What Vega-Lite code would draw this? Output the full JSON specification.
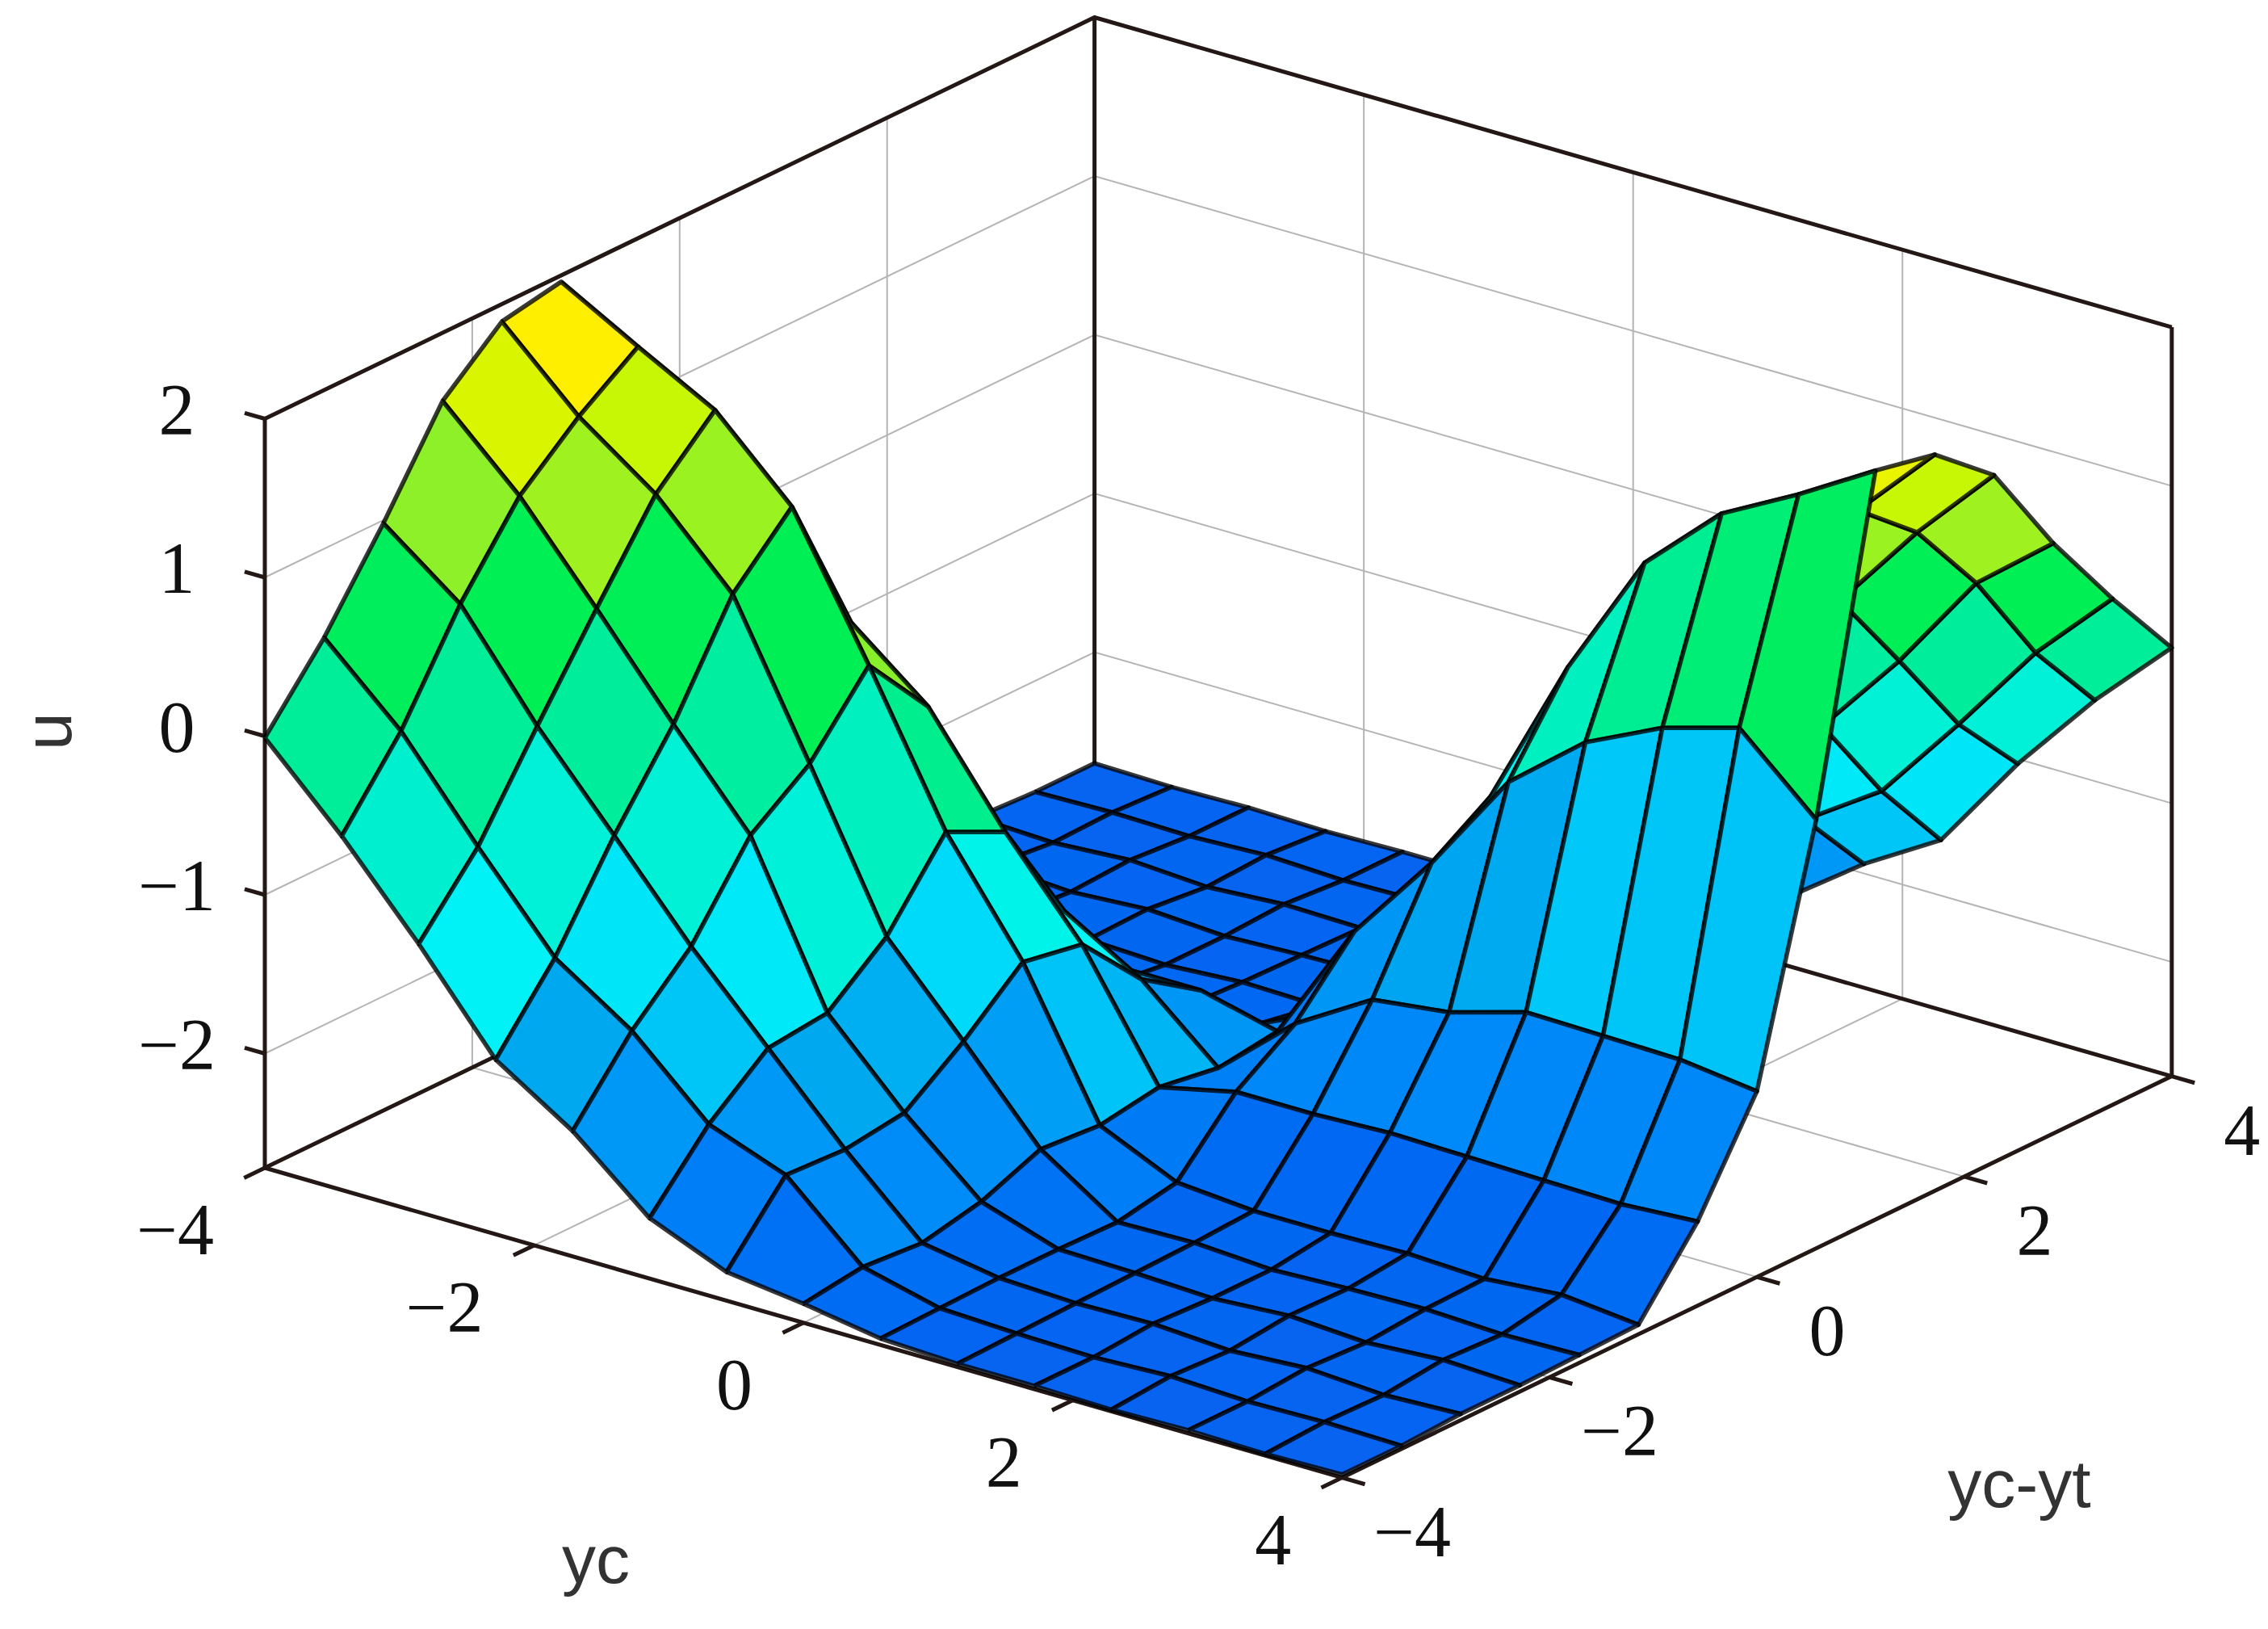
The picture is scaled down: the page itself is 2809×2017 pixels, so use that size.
{
  "$schema": "https://vega.github.io/schema/vega-lite/v6.json",
  "width": 2809,
  "height": 2017,
  "padding": 0,
  "autosize": "none",
  "background": "white",
  "config": {"view": {"stroke": null}},
  "datasets": {
    "mesh": [
      {"i":0,"j":14,"u":-2.70},{"i":0,"j":13,"u":-2.70},{"i":0,"j":12,"u":-2.68},{"i":0,"j":11,"u":-2.68},{"i":0,"j":10,"u":-2.67},{"i":0,"j":9,"u":-2.66},{"i":0,"j":8,"u":-2.19},{"i":0,"j":7,"u":-1.55},{"i":0,"j":6,"u":-0.02},{"i":0,"j":5,"u":1.96},{"i":0,"j":4,"u":1.89},{"i":0,"j":3,"u":1.57},{"i":0,"j":2,"u":0.98},{"i":0,"j":1,"u":0.44},{"i":0,"j":0,"u":-0.01},
      {"i":1,"j":14,"u":-2.71},{"i":1,"j":13,"u":-2.69},{"i":1,"j":12,"u":-2.70},{"i":1,"j":11,"u":-2.66},{"i":1,"j":10,"u":-2.68},{"i":1,"j":9,"u":-2.61},{"i":1,"j":8,"u":-2.22},{"i":1,"j":7,"u":-1.49},{"i":1,"j":6,"u":0.42},{"i":1,"j":5,"u":1.69},{"i":1,"j":4,"u":1.43},{"i":1,"j":3,"u":1.11},{"i":1,"j":2,"u":0.61},{"i":1,"j":1,"u":-0.01},{"i":1,"j":0,"u":-0.49},
      {"i":2,"j":14,"u":-2.70},{"i":2,"j":13,"u":-2.70},{"i":2,"j":12,"u":-2.67},{"i":2,"j":11,"u":-2.69},{"i":2,"j":10,"u":-2.66},{"i":2,"j":9,"u":-2.65},{"i":2,"j":8,"u":-2.21},{"i":2,"j":7,"u":-1.48},{"i":2,"j":6,"u":0.28},{"i":2,"j":5,"u":1.43},{"i":2,"j":4,"u":1.08},{"i":2,"j":3,"u":0.54},{"i":2,"j":2,"u":-0.02},{"i":2,"j":1,"u":-0.60},{"i":2,"j":0,"u":-1.03},
      {"i":3,"j":14,"u":-2.71},{"i":3,"j":13,"u":-2.68},{"i":3,"j":12,"u":-2.70},{"i":3,"j":11,"u":-2.66},{"i":3,"j":10,"u":-2.67},{"i":3,"j":9,"u":-2.63},{"i":3,"j":8,"u":-2.20},{"i":3,"j":7,"u":-1.47},{"i":3,"j":6,"u":0.05},{"i":3,"j":5,"u":0.96},{"i":3,"j":4,"u":0.59},{"i":3,"j":3,"u":-0.05},{"i":3,"j":2,"u":-0.57},{"i":3,"j":1,"u":-1.16},{"i":3,"j":0,"u":-1.62},
      {"i":4,"j":14,"u":-2.70},{"i":4,"j":13,"u":-2.70},{"i":4,"j":12,"u":-2.67},{"i":4,"j":11,"u":-2.69},{"i":4,"j":10,"u":-2.69},{"i":4,"j":9,"u":-2.64},{"i":4,"j":8,"u":-2.19},{"i":4,"j":7,"u":-1.61},{"i":4,"j":6,"u":-0.34},{"i":4,"j":5,"u":0.10},{"i":4,"j":4,"u":-0.34},{"i":4,"j":3,"u":-0.61},{"i":4,"j":2,"u":-1.13},{"i":4,"j":1,"u":-1.48},{"i":4,"j":0,"u":-1.93},
      {"i":5,"j":14,"u":-2.70},{"i":5,"j":13,"u":-2.69},{"i":5,"j":12,"u":-2.68},{"i":5,"j":11,"u":-2.67},{"i":5,"j":10,"u":-2.66},{"i":5,"j":9,"u":-2.64},{"i":5,"j":8,"u":-2.21},{"i":5,"j":7,"u":-1.67},{"i":5,"j":6,"u":-0.99},{"i":5,"j":5,"u":-0.81},{"i":5,"j":4,"u":-1.29},{"i":5,"j":3,"u":-1.59},{"i":5,"j":2,"u":-1.63},{"i":5,"j":1,"u":-1.93},{"i":5,"j":0,"u":-2.34},
      {"i":6,"j":14,"u":-2.68},{"i":6,"j":13,"u":-2.67},{"i":6,"j":12,"u":-2.66},{"i":6,"j":11,"u":-2.66},{"i":6,"j":10,"u":-2.67},{"i":6,"j":9,"u":-2.60},{"i":6,"j":8,"u":-2.21},{"i":6,"j":7,"u":-1.96},{"i":6,"j":6,"u":-1.56},{"i":6,"j":5,"u":-1.49},{"i":6,"j":4,"u":-1.81},{"i":6,"j":3,"u":-2.08},{"i":6,"j":2,"u":-2.13},{"i":6,"j":1,"u":-2.11},{"i":6,"j":0,"u":-2.54},
      {"i":7,"j":14,"u":-2.60},{"i":7,"j":13,"u":-2.55},{"i":7,"j":12,"u":-2.58},{"i":7,"j":11,"u":-2.50},{"i":7,"j":10,"u":-2.35},{"i":7,"j":9,"u":-2.38},{"i":7,"j":8,"u":-2.33},{"i":7,"j":7,"u":-2.38},{"i":7,"j":6,"u":-2.32},{"i":7,"j":5,"u":-2.38},{"i":7,"j":4,"u":-2.35},{"i":7,"j":3,"u":-2.50},{"i":7,"j":2,"u":-2.58},{"i":7,"j":1,"u":-2.55},{"i":7,"j":0,"u":-2.60},
      {"i":8,"j":14,"u":-2.54},{"i":8,"j":13,"u":-2.11},{"i":8,"j":12,"u":-2.13},{"i":8,"j":11,"u":-2.08},{"i":8,"j":10,"u":-1.81},{"i":8,"j":9,"u":-1.49},{"i":8,"j":8,"u":-1.56},{"i":8,"j":7,"u":-1.96},{"i":8,"j":6,"u":-2.21},{"i":8,"j":5,"u":-2.60},{"i":8,"j":4,"u":-2.67},{"i":8,"j":3,"u":-2.66},{"i":8,"j":2,"u":-2.66},{"i":8,"j":1,"u":-2.67},{"i":8,"j":0,"u":-2.68},
      {"i":9,"j":14,"u":-2.29},{"i":9,"j":13,"u":-1.93},{"i":9,"j":12,"u":-1.63},{"i":9,"j":11,"u":-1.59},{"i":9,"j":10,"u":-1.29},{"i":9,"j":9,"u":-0.75},{"i":9,"j":8,"u":-0.99},{"i":9,"j":7,"u":-1.67},{"i":9,"j":6,"u":-2.21},{"i":9,"j":5,"u":-2.64},{"i":9,"j":4,"u":-2.66},{"i":9,"j":3,"u":-2.67},{"i":9,"j":2,"u":-2.68},{"i":9,"j":1,"u":-2.69},{"i":9,"j":0,"u":-2.70},
      {"i":10,"j":14,"u":-1.94},{"i":10,"j":13,"u":-1.48},{"i":10,"j":12,"u":-1.13},{"i":10,"j":11,"u":-0.61},{"i":10,"j":10,"u":-0.34},{"i":10,"j":9,"u":0.20},{"i":10,"j":8,"u":-0.34},{"i":10,"j":7,"u":-1.61},{"i":10,"j":6,"u":-2.19},{"i":10,"j":5,"u":-2.64},{"i":10,"j":4,"u":-2.69},{"i":10,"j":3,"u":-2.69},{"i":10,"j":2,"u":-2.67},{"i":10,"j":1,"u":-2.70},{"i":10,"j":0,"u":-2.70},
      {"i":11,"j":14,"u":-1.65},{"i":11,"j":13,"u":-1.16},{"i":11,"j":12,"u":-0.57},{"i":11,"j":11,"u":-0.05},{"i":11,"j":10,"u":0.59},{"i":11,"j":9,"u":1.00},{"i":11,"j":8,"u":0.05},{"i":11,"j":7,"u":-1.47},{"i":11,"j":6,"u":-2.20},{"i":11,"j":5,"u":-2.63},{"i":11,"j":4,"u":-2.67},{"i":11,"j":3,"u":-2.66},{"i":11,"j":2,"u":-2.70},{"i":11,"j":1,"u":-2.68},{"i":11,"j":0,"u":-2.71},
      {"i":12,"j":14,"u":-1.03},{"i":12,"j":13,"u":-0.60},{"i":12,"j":12,"u":-0.02},{"i":12,"j":11,"u":0.54},{"i":12,"j":10,"u":1.08},{"i":12,"j":9,"u":1.45},{"i":12,"j":8,"u":0.28},{"i":12,"j":7,"u":-1.48},{"i":12,"j":6,"u":-2.21},{"i":12,"j":5,"u":-2.65},{"i":12,"j":4,"u":-2.66},{"i":12,"j":3,"u":-2.69},{"i":12,"j":2,"u":-2.67},{"i":12,"j":1,"u":-2.70},{"i":12,"j":0,"u":-2.70},
      {"i":13,"j":14,"u":-0.49},{"i":13,"j":13,"u":-0.01},{"i":13,"j":12,"u":0.61},{"i":13,"j":11,"u":1.11},{"i":13,"j":10,"u":1.43},{"i":13,"j":9,"u":1.71},{"i":13,"j":8,"u":0.42},{"i":13,"j":7,"u":-1.49},{"i":13,"j":6,"u":-2.22},{"i":13,"j":5,"u":-2.61},{"i":13,"j":4,"u":-2.68},{"i":13,"j":3,"u":-2.66},{"i":13,"j":2,"u":-2.70},{"i":13,"j":1,"u":-2.69},{"i":13,"j":0,"u":-2.71},
      {"i":14,"j":14,"u":-0.02},{"i":14,"j":13,"u":0.47},{"i":14,"j":12,"u":1.00},{"i":14,"j":11,"u":1.61},{"i":14,"j":10,"u":1.92},{"i":14,"j":9,"u":2.00},{"i":14,"j":8,"u":-0.02},{"i":14,"j":7,"u":-1.55},{"i":14,"j":6,"u":-2.19},{"i":14,"j":5,"u":-2.66},{"i":14,"j":4,"u":-2.67},{"i":14,"j":3,"u":-2.68},{"i":14,"j":2,"u":-2.68},{"i":14,"j":1,"u":-2.70},{"i":14,"j":0,"u":-2.70}
    ],
    "grid": [
      {"line":"w1","o":0,"yc":-4,"d":-2,"u":-2.72},{"line":"w1","o":1,"yc":-4,"d":-2,"u":2},
      {"line":"w2","o":0,"yc":-4,"d":0,"u":-2.72},{"line":"w2","o":1,"yc":-4,"d":0,"u":2},
      {"line":"w3","o":0,"yc":-4,"d":2,"u":-2.72},{"line":"w3","o":1,"yc":-4,"d":2,"u":2},
      {"line":"b1","o":0,"yc":-2,"d":4,"u":-2.72},{"line":"b1","o":1,"yc":-2,"d":4,"u":2},
      {"line":"b2","o":0,"yc":0,"d":4,"u":-2.72},{"line":"b2","o":1,"yc":0,"d":4,"u":2},
      {"line":"b3","o":0,"yc":2,"d":4,"u":-2.72},{"line":"b3","o":1,"yc":2,"d":4,"u":2},
      {"line":"h1","o":0,"yc":-4,"d":-4,"u":-2},{"line":"h1","o":1,"yc":-4,"d":4,"u":-2},{"line":"h1","o":2,"yc":4,"d":4,"u":-2},
      {"line":"h2","o":0,"yc":-4,"d":-4,"u":-1},{"line":"h2","o":1,"yc":-4,"d":4,"u":-1},{"line":"h2","o":2,"yc":4,"d":4,"u":-1},
      {"line":"h3","o":0,"yc":-4,"d":-4,"u":0},{"line":"h3","o":1,"yc":-4,"d":4,"u":0},{"line":"h3","o":2,"yc":4,"d":4,"u":0},
      {"line":"h4","o":0,"yc":-4,"d":-4,"u":1},{"line":"h4","o":1,"yc":-4,"d":4,"u":1},{"line":"h4","o":2,"yc":4,"d":4,"u":1},
      {"line":"f1","o":0,"yc":-2,"d":-4,"u":-2.72},{"line":"f1","o":1,"yc":-2,"d":4,"u":-2.72},
      {"line":"f2","o":0,"yc":0,"d":-4,"u":-2.72},{"line":"f2","o":1,"yc":0,"d":4,"u":-2.72},
      {"line":"f3","o":0,"yc":2,"d":-4,"u":-2.72},{"line":"f3","o":1,"yc":2,"d":4,"u":-2.72},
      {"line":"f4","o":0,"yc":-4,"d":-2,"u":-2.72},{"line":"f4","o":1,"yc":4,"d":-2,"u":-2.72},
      {"line":"f5","o":0,"yc":-4,"d":0,"u":-2.72},{"line":"f5","o":1,"yc":4,"d":0,"u":-2.72},
      {"line":"f6","o":0,"yc":-4,"d":2,"u":-2.72},{"line":"f6","o":1,"yc":4,"d":2,"u":-2.72}
    ],
    "box": [
      {"line":"top","o":0,"yc":-4,"d":-4,"u":2},{"line":"top","o":1,"yc":-4,"d":4,"u":2},{"line":"top","o":2,"yc":4,"d":4,"u":2},
      {"line":"vl","o":0,"yc":-4,"d":-4,"u":-2.72},{"line":"vl","o":1,"yc":-4,"d":-4,"u":2},
      {"line":"vb","o":0,"yc":-4,"d":4,"u":-2.72},{"line":"vb","o":1,"yc":-4,"d":4,"u":2},
      {"line":"vr","o":0,"yc":4,"d":4,"u":-2.72},{"line":"vr","o":1,"yc":4,"d":4,"u":2},
      {"line":"front","o":0,"yc":-4,"d":-4,"u":-2.72},{"line":"front","o":1,"yc":4,"d":-4,"u":-2.72},{"line":"front","o":2,"yc":4,"d":4,"u":-2.72},
      {"line":"back","o":0,"yc":-4,"d":-4,"u":-2.72},{"line":"back","o":1,"yc":-4,"d":4,"u":-2.72},{"line":"back","o":2,"yc":4,"d":4,"u":-2.72},
      {"line":"tu1","o":0,"yc":-4,"d":-4,"u":-2},{"line":"tu1","o":1,"yc":-4.15,"d":-4,"u":-2},
      {"line":"tu2","o":0,"yc":-4,"d":-4,"u":-1},{"line":"tu2","o":1,"yc":-4.15,"d":-4,"u":-1},
      {"line":"tu3","o":0,"yc":-4,"d":-4,"u":0},{"line":"tu3","o":1,"yc":-4.15,"d":-4,"u":0},
      {"line":"tu4","o":0,"yc":-4,"d":-4,"u":1},{"line":"tu4","o":1,"yc":-4.15,"d":-4,"u":1},
      {"line":"tu5","o":0,"yc":-4,"d":-4,"u":2},{"line":"tu5","o":1,"yc":-4.15,"d":-4,"u":2},
      {"line":"ty1","o":0,"yc":-4,"d":-4,"u":-2.72},{"line":"ty1","o":1,"yc":-4,"d":-4.2,"u":-2.72},
      {"line":"ty2","o":0,"yc":-2,"d":-4,"u":-2.72},{"line":"ty2","o":1,"yc":-2,"d":-4.2,"u":-2.72},
      {"line":"ty3","o":0,"yc":0,"d":-4,"u":-2.72},{"line":"ty3","o":1,"yc":0,"d":-4.2,"u":-2.72},
      {"line":"ty4","o":0,"yc":2,"d":-4,"u":-2.72},{"line":"ty4","o":1,"yc":2,"d":-4.2,"u":-2.72},
      {"line":"ty5","o":0,"yc":4,"d":-4,"u":-2.72},{"line":"ty5","o":1,"yc":4,"d":-4.2,"u":-2.72},
      {"line":"td1","o":0,"yc":4,"d":-4,"u":-2.72},{"line":"td1","o":1,"yc":4.17,"d":-4,"u":-2.72},
      {"line":"td2","o":0,"yc":4,"d":-2,"u":-2.72},{"line":"td2","o":1,"yc":4.17,"d":-2,"u":-2.72},
      {"line":"td3","o":0,"yc":4,"d":0,"u":-2.72},{"line":"td3","o":1,"yc":4.17,"d":0,"u":-2.72},
      {"line":"td4","o":0,"yc":4,"d":2,"u":-2.72},{"line":"td4","o":1,"yc":4.17,"d":2,"u":-2.72},
      {"line":"td5","o":0,"yc":4,"d":4,"u":-2.72},{"line":"td5","o":1,"yc":4.17,"d":4,"u":-2.72}
    ],
    "labels": [
      {"a":"u","t":"−2","yc":-4,"d":-4,"u":-2},{"a":"u","t":"−1","yc":-4,"d":-4,"u":-1},{"a":"u","t":"0","yc":-4,"d":-4,"u":0},{"a":"u","t":"1","yc":-4,"d":-4,"u":1},{"a":"u","t":"2","yc":-4,"d":-4,"u":2},
      {"a":"yc","t":"−4","yc":-4,"d":-4,"u":-2.72},{"a":"yc","t":"−2","yc":-2,"d":-4,"u":-2.72},{"a":"yc","t":"0","yc":0,"d":-4,"u":-2.72},{"a":"yc","t":"2","yc":2,"d":-4,"u":-2.72},{"a":"yc","t":"4","yc":4,"d":-4,"u":-2.72},
      {"a":"d","t":"−4","yc":4,"d":-4,"u":-2.72},{"a":"d","t":"−2","yc":4,"d":-2,"u":-2.72},{"a":"d","t":"0","yc":4,"d":0,"u":-2.72},{"a":"d","t":"2","yc":4,"d":2,"u":-2.72},{"a":"d","t":"4","yc":4,"d":4,"u":-2.72},
      {"a":"tu","t":"u","yc":-4,"d":-4,"u":0},{"a":"ty","t":"yc","yc":0,"d":-4,"u":-2.72},{"a":"td","t":"yc-yt","yc":4,"d":0,"u":-2.72}
    ]
  },
  "encoding": {
    "x": {"field": "sx", "type": "quantitative", "axis": null, "scale": {"domain": [0, 2809], "nice": false, "zero": false}},
    "y": {"field": "sy", "type": "quantitative", "axis": null, "scale": {"domain": [2017, 0], "nice": false, "zero": false}}
  },
  "layer": [
    {
      "data": {"name": "grid"},
      "transform": [
        {"calculate": "328 + 95.3 * (datum.yc + 4) * 1.75 + 73.4 * (datum.d + 4) * 1.75", "as": "sx"},
        {"calculate": "1446 + 27.4 * (datum.yc + 4) * 1.75 - 35.5 * (datum.d + 4) * 1.75 - (datum.u + 2.72) * 196.5", "as": "sy"}
      ],
      "mark": {"type": "line", "stroke": "#b4b4b4", "strokeWidth": 2},
      "encoding": {"detail": {"field": "line"}, "order": {"field": "o", "type": "quantitative"}}
    },
    {
      "data": {"name": "box"},
      "transform": [
        {"calculate": "328 + 95.3 * (datum.yc + 4) * 1.75 + 73.4 * (datum.d + 4) * 1.75", "as": "sx"},
        {"calculate": "1446 + 27.4 * (datum.yc + 4) * 1.75 - 35.5 * (datum.d + 4) * 1.75 - (datum.u + 2.72) * 196.5", "as": "sy"}
      ],
      "mark": {"type": "line", "stroke": "#231815", "strokeWidth": 5},
      "encoding": {"detail": {"field": "line"}, "order": {"field": "o", "type": "quantitative"}}
    },
    {
      "data": {"name": "mesh"},
      "transform": [
        {"calculate": "[datum.i, datum.i - 1, datum.i - 1, datum.i, datum.i]", "as": "qa"},
        {"calculate": "[datum.j, datum.j, datum.j - 1, datum.j - 1, datum.j]", "as": "qb"},
        {"calculate": "[0, 1, 2, 3, 4]", "as": "c"},
        {"flatten": ["qa", "qb", "c"]},
        {"filter": "datum.qa >= 0 && datum.qa < 14 && datum.qb >= 0 && datum.qb < 14"},
        {"calculate": "datum.qa * 100 + datum.qb", "as": "q"},
        {"calculate": "datum.c == 0 ? datum.u : null", "as": "cu"},
        {"joinaggregate": [{"op": "max", "field": "cu", "as": "cval"}], "groupby": ["q"]},
        {"calculate": "328 + 95.3 * datum.i + 73.4 * datum.j", "as": "sx"},
        {"calculate": "1446 + 27.4 * datum.i - 35.5 * datum.j - (datum.u + 2.72) * 196.5", "as": "sy"}
      ],
      "mark": {"type": "line", "stroke": "#000000", "strokeOpacity": 0.78, "strokeWidth": 5.5, "strokeJoin": "round"},
      "encoding": {
        "detail": {"field": "q"},
        "order": {"field": "c", "type": "quantitative"},
        "fill": {
          "field": "cval",
          "type": "quantitative",
          "legend": null,
          "scale": {
            "domain": [-2.72, -2.2, -1.62, -1.47, -1.0, -0.5, 0, 0.44, 0.75, 0.98, 1.5, 1.9],
            "range": ["#0a62f0", "#0088f8", "#00a8f0", "#00c8f8", "#00f5f5", "#00f0d0", "#00ee99", "#00ee5c", "#00f04c", "#8ef028", "#d0f800", "#ffee00"]
          }
        }
      }
    },
    {
      "data": {"name": "labels"},
      "transform": [
        {"filter": "datum.a == 'u'"},
        {"calculate": "328 + 95.3 * (datum.yc + 4) * 1.75 + 73.4 * (datum.d + 4) * 1.75", "as": "sx"},
        {"calculate": "1446 + 27.4 * (datum.yc + 4) * 1.75 - 35.5 * (datum.d + 4) * 1.75 - (datum.u + 2.72) * 196.5", "as": "sy"}
      ],
      "mark": {"type": "text", "font": "Liberation Serif", "fontSize": 90, "align": "center", "baseline": "middle", "dx": -109, "dy": -8, "color": "#111111"},
      "encoding": {"text": {"field": "t"}}
    },
    {
      "data": {"name": "labels"},
      "transform": [
        {"filter": "datum.a == 'yc'"},
        {"calculate": "328 + 95.3 * (datum.yc + 4) * 1.75 + 73.4 * (datum.d + 4) * 1.75", "as": "sx"},
        {"calculate": "1446 + 27.4 * (datum.yc + 4) * 1.75 - 35.5 * (datum.d + 4) * 1.75 - (datum.u + 2.72) * 196.5", "as": "sy"}
      ],
      "mark": {"type": "text", "font": "Liberation Serif", "fontSize": 90, "align": "right", "baseline": "middle", "dx": -63, "dy": 80, "color": "#111111"},
      "encoding": {"text": {"field": "t"}}
    },
    {
      "data": {"name": "labels"},
      "transform": [
        {"filter": "datum.a == 'd'"},
        {"calculate": "328 + 95.3 * (datum.yc + 4) * 1.75 + 73.4 * (datum.d + 4) * 1.75", "as": "sx"},
        {"calculate": "1446 + 27.4 * (datum.yc + 4) * 1.75 - 35.5 * (datum.d + 4) * 1.75 - (datum.u + 2.72) * 196.5", "as": "sy"}
      ],
      "mark": {"type": "text", "font": "Liberation Serif", "fontSize": 90, "align": "center", "baseline": "middle", "dx": 87, "dy": 70, "color": "#111111"},
      "encoding": {"text": {"field": "t"}}
    },
    {
      "data": {"name": "labels"},
      "transform": [
        {"filter": "datum.a == 'tu'"},
        {"calculate": "328 + 95.3 * (datum.yc + 4) * 1.75 + 73.4 * (datum.d + 4) * 1.75", "as": "sx"},
        {"calculate": "1446 + 27.4 * (datum.yc + 4) * 1.75 - 35.5 * (datum.d + 4) * 1.75 - (datum.u + 2.72) * 196.5", "as": "sy"}
      ],
      "mark": {"type": "text", "font": "Liberation Sans", "fontSize": 84, "align": "center", "baseline": "middle", "angle": -90, "dx": 6, "dy": -265, "color": "#333333"},
      "encoding": {"text": {"field": "t"}}
    },
    {
      "data": {"name": "labels"},
      "transform": [
        {"filter": "datum.a == 'ty'"},
        {"calculate": "328 + 95.3 * (datum.yc + 4) * 1.75 + 73.4 * (datum.d + 4) * 1.75", "as": "sx"},
        {"calculate": "1446 + 27.4 * (datum.yc + 4) * 1.75 - 35.5 * (datum.d + 4) * 1.75 - (datum.u + 2.72) * 196.5", "as": "sy"}
      ],
      "mark": {"type": "text", "font": "Liberation Sans", "fontSize": 84, "align": "center", "baseline": "middle", "dx": -257, "dy": 297, "color": "#333333"},
      "encoding": {"text": {"field": "t"}}
    },
    {
      "data": {"name": "labels"},
      "transform": [
        {"filter": "datum.a == 'td'"},
        {"calculate": "328 + 95.3 * (datum.yc + 4) * 1.75 + 73.4 * (datum.d + 4) * 1.75", "as": "sx"},
        {"calculate": "1446 + 27.4 * (datum.yc + 4) * 1.75 - 35.5 * (datum.d + 4) * 1.75 - (datum.u + 2.72) * 196.5", "as": "sy"}
      ],
      "mark": {"type": "text", "font": "Liberation Sans", "fontSize": 84, "align": "center", "baseline": "middle", "dx": 325, "dy": 260, "color": "#333333"},
      "encoding": {"text": {"field": "t"}}
    }
  ]
}
